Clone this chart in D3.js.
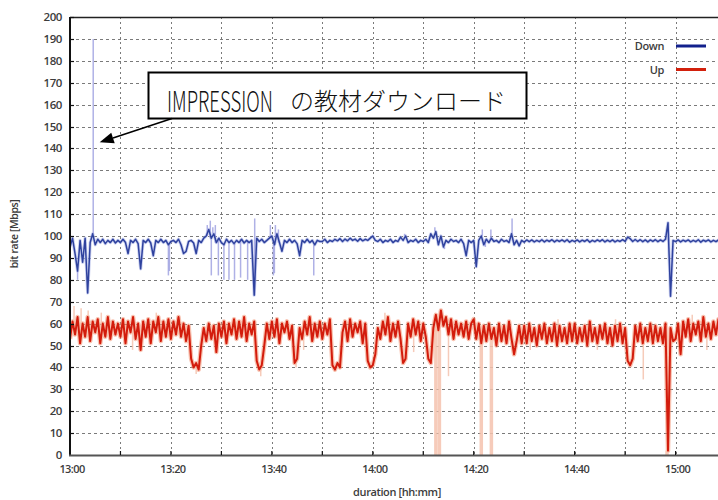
<!DOCTYPE html>
<html><head><meta charset="utf-8">
<script src="https://cdn.jsdelivr.net/npm/d3@7"></script>
<style>body{margin:0;background:#fff}svg{display:block}</style>
</head><body><svg id="c" width="718" height="500"></svg>
<script>
// ---------------- DATA ----------------
const startTime = "13:00";
const endTime = "15:09";
const stepMin = 0.5;               // one sample every 30 s
const seriesNames = ["Down", "Up"];
const yTickValues = [0,10,20,30,40,50,60,70,80,90,100,110,120,130,140,150,160,170,180,190,200];
const xGridTimes = ["13:10","13:20","13:30","13:40","13:50","14:00","14:10","14:20","14:30","14:40","14:50","15:00"];
const xTickLabels = ["13:00","13:20","13:40","14:00","14:20","14:40","15:00"];
const xTitle = "duration [hh:mm]";
const yTitle = "bit rate [Mbps]";
const annotationLatin = "IMPRESSION";
const annotationJa = "の教材ダウンロード";
const annotationTime = "13:04";
const annotationValue = 143;

// Down (Mbps), sampled every 30 s from 13:00
const downVals = [
  95,99,92,84,98,88,99,74,97,101,96,98.5,97,98.5,96.5,98,97,98.5,96.8,98,
  97,98.5,97,92,98,97,98.5,96.5,85,98,97,98.5,96.8,91,98,97,98.5,97,98,96,
  97.5,98,97,98.5,96,92,93,97.5,98,96.8,92,98,97,99,100,103,99,101,97,99,
  97,96,98.5,97,98,96.5,98,97,98.5,96.8,98,97,98,73,99,97.5,98.5,97,98,99,
  100,96,101,97,93,98,97,98.5,97,98,96.5,91,98,97,98.5,97,98,96,98,97.5,
  97.5,98.5,97,98,97.5,98.5,97.8,98.8,97.5,98.6,97.8,99,98,98.6,97.6,98.8,97.8,98.5,98,99,
  100,98,97.5,98.5,97,98,97.5,98.5,97,98,97.5,99.5,98,100,97,98,97.5,98.5,97,98,
  97.5,98.5,97,101,99,102,96,100,95,98,97,98.5,97.5,98,97,98.5,96.5,91,98,97,
  98,86,98,100,96,98.5,97,99,97.5,98,97,98.5,97.5,98,97,101,96,98,95.5,98,
  97.2,98.2,97.4,98.2,97.3,98,97.4,98.3,97.3,98.1,97.5,98.3,97.3,98.1,97.5,98.2,97.4,98.3,97.2,98,
  97.4,98.2,97.3,98.1,97.5,98.3,97.2,98,97.4,98.2,97.5,98.3,97.3,98.1,97.4,98.2,97.3,98,97.5,98.3,
  97.5,99.5,98.8,97.5,98.4,97.5,98.3,97.4,98.2,97.3,98.2,97.5,98.3,97.4,98.2,97.5,98.5,106,72.5,98,
  97.4,98.2,97.3,98.1,97.5,98.2,97.3,98,97.4,98.3,97.2,98.1,97.5,98.2,97.3,98,97.4,98.2,97.5
];
// Up (Mbps), sampled every 30 s from 13:00
const upVals = [
  53,61,55,63,51,60,54,63,52,61,56,62,51,60,54,63,53,61,55,60,
  54,62,51,61,56,63,53,60,48,61,54,62,51,61,56,63,52,61,54,62,
  53,61,55,63,54,60,52,59,44,40,42,39,50,58,52,60,53,59,47,60,
  54,61,51,60,55,62,53,61,54,63,52,60,55,61,43,39,41,50,60,53,
  61,54,62,51,60,56,61,53,59,42,44,58,53,61,55,63,52,60,54,61,
  53,60,55,62,41,39,42,40,56,61,52,62,54,60,56,61,51,60,43,40,
  41,46,58,53,61,55,63,52,60,54,61,53,42,44,60,54,62,55,61,52,
  60,54,44,42,58,64,57,66,59,63,55,62,53,61,55,60,54,61,53,60,
  62,53,60,51,59,52,60,53,58,50,60,52,59,51,61,53,46,52,59,51,
  59,51,60,52,58,50,59,53,60,51,58,52,60,50,59,52,58,51,60,52,
  60,51,58,52,59,50,61,52,58,51,59,53,60,51,58,50,59,52,60,51,
  58,43,41,44,59,52,60,51,58,52,60,51,59,52,58,51,60,2,58,52,
  53,60,46,61,54,62,52,60,55,61,52,63,54,60,53,61,55,62,53
];
// short-lived raw excursions [time, Mbps]
const downSpikes = [
  ["13:04:36",190],["13:01:30",80],["13:19:30",82],["13:19:42",84],
  ["13:27:12",105],["13:27:48",107],["13:28:18",104],["13:28:00",82],["13:29:24",82],["13:28:48",105],
  ["13:30:30",80],["13:31:30",80],["13:32:36",80],["13:33:48",81],["13:35:12",80],["13:36:36",108],
  ["13:39:42",105],["13:40:18",82],["13:40:42",105],["13:41:18",103],["13:40:30",83],["13:48:18",82],
  ["14:06:18",101],["14:12:18",104],["14:14:12",94],["14:21:42",103],["14:22:18",95],["14:23:24",103],["14:27:36",108]
];
const upSpikes = [
  ["13:00:48",68],["13:02:12",67],["13:03:36",66],["13:06:12",65],["13:12:24",48],["13:17:06",65],
  ["13:25:00",37],["13:37:48",36],["13:44:48",40],["13:46:18",48],
  ["13:52:30",38],["14:02:24",65],["14:08:06",47],["14:12:30",0],["14:13:12",0],["14:15:00",36],["14:21:30",0],["14:23:30",0],
  ["14:31:12",48],["14:36:42",62],["14:44:30",48],["14:48:06",62],
  ["14:53:36",34.5],["14:58:18",0],["15:03:18",64],["15:06:12",48]
];

// ---------------- CHART ----------------
const m = {left: 70, top: 17, right: 721, bottom: 455};
const svg = d3.select("#c");
const parseT = s => { const p = s.split(":").map(Number); return new Date(2000,0,1,p[0],p[1],p[2]||0); };
const t0 = parseT(startTime);
const tAt = i => new Date(t0.getTime() + i * stepMin * 60000);

const x = d3.scaleTime().domain([parseT(startTime), parseT(endTime)]).range([m.left, m.right]);
const y = d3.scaleLinear().domain([0, 200]).range([m.bottom, m.top]);

svg.append("clipPath").attr("id","plot").append("rect")
  .attr("x", m.left).attr("y", m.top).attr("width", m.right - m.left).attr("height", m.bottom - m.top);

// grid
const grid = svg.append("g").attr("stroke", "#7a7a7a").attr("stroke-width", 1).attr("fill","none");
grid.selectAll("line.h").data(yTickValues.filter(v => v > 0 && v < 200)).join("line")
  .attr("x1", m.left).attr("x2", m.right)
  .attr("y1", d => Math.round(y(d)) + 0.5).attr("y2", d => Math.round(y(d)) + 0.5)
  .attr("stroke-dasharray", "3,3");
grid.selectAll("line.v").data(xGridTimes).join("line")
  .attr("x1", d => Math.round(x(parseT(d))) + 0.5).attr("x2", d => Math.round(x(parseT(d))) + 0.5)
  .attr("y1", m.top).attr("y2", m.bottom)
  .attr("stroke-dasharray", "2,3");

// data layers
const plot = svg.append("g").attr("clip-path", "url(#plot)");
const nearestVal = (arr, t) => {
  const i = Math.round((t - t0) / 60000 / stepMin);
  return arr[Math.max(0, Math.min(arr.length - 1, i))];
};
const line = d3.line().x((d, i) => x(tAt(i))).y(d => y(d));

function drawSeries(vals, spikes, st) {
  plot.append("path").attr("d", line(vals)).attr("fill", "none")
    .attr("stroke", st.halo).attr("stroke-width", st.haloW).attr("stroke-linejoin", "round").attr("opacity", st.haloOp);
  plot.selectAll(null).data(spikes).join("line")
    .attr("x1", d => x(parseT(d[0]))).attr("x2", d => x(parseT(d[0])))
    .attr("y1", d => y(nearestVal(vals, parseT(d[0])))).attr("y2", d => y(d[1]))
    .attr("stroke", st.spike).attr("stroke-width", d => d[1] < 10 ? 3.5 : 1.5).attr("opacity", 0.85);
  plot.append("path").attr("d", line(vals)).attr("fill", "none")
    .attr("stroke", st.main).attr("stroke-width", st.mainW).attr("stroke-linejoin", "round");
}
drawSeries(upVals, upSpikes, {halo:"#f29070", haloW:4.5, haloOp:0.55, spike:"#f5c3ae", main:"#d31c0c", mainW:2});
drawSeries(downVals, downSpikes, {halo:"#a8b2e6", haloW:3.2, haloOp:0.6, spike:"#a2a4e2", main:"#2f429e", mainW:1.5});

// frame / axes
svg.append("line").attr("x1", m.left).attr("x2", m.right).attr("y1", m.top + 0.5).attr("y2", m.top + 0.5)
  .attr("stroke", "#222").attr("stroke-width", 1.5);
svg.append("line").attr("x1", m.left).attr("x2", m.left).attr("y1", m.top).attr("y2", m.bottom + 1)
  .attr("stroke", "#111").attr("stroke-width", 2);
svg.append("line").attr("x1", m.left - 1).attr("x2", m.right).attr("y1", m.bottom + 0.5).attr("y2", m.bottom + 0.5)
  .attr("stroke", "#555").attr("stroke-width", 2);

// ticks
svg.append("g").selectAll("line").data(yTickValues.filter(v => v > 0)).join("line")
  .attr("x1", m.left).attr("x2", m.left + 4).attr("y1", d => Math.round(y(d)) + 0.5).attr("y2", d => Math.round(y(d)) + 0.5)
  .attr("stroke", "#111").attr("stroke-width", 1.2);
svg.append("g").selectAll("line").data(xGridTimes).join("line")
  .attr("x1", d => x(parseT(d))).attr("x2", d => x(parseT(d))).attr("y1", m.bottom).attr("y2", m.bottom - 4)
  .attr("stroke", "#111").attr("stroke-width", 1.2);

const lab = "'Open Sans', 'DejaVu Sans', sans-serif";
svg.append("g").selectAll("text").data(yTickValues).join("text")
  .attr("x", 62).attr("y", d => y(d) + 4).attr("text-anchor", "end")
  .attr("font-family", lab).attr("font-size", 11.5).attr("font-weight", 600).attr("fill", "#3c3c3c").attr("letter-spacing", "-0.4")
  .text(d => d);
svg.append("g").selectAll("text").data(xTickLabels).join("text")
  .attr("x", d => x(parseT(d)) + 2).attr("y", 473).attr("text-anchor", "middle")
  .attr("font-family", lab).attr("font-size", 11).attr("font-weight", 600).attr("fill", "#3c3c3c").attr("letter-spacing", "-0.6")
  .text(d => d);
svg.append("text").attr("x", 397).attr("y", 496).attr("text-anchor", "middle")
  .attr("font-family", lab).attr("font-size", 11).attr("font-weight", 600).attr("fill", "#3c3c3c").attr("letter-spacing", "-0.4").text(xTitle);
svg.append("text").attr("transform", "translate(18,234) rotate(-90)").attr("text-anchor", "middle")
  .attr("font-family", lab).attr("font-size", 10.5).attr("font-weight", 600).attr("fill", "#3c3c3c").attr("letter-spacing", "-0.4").text(yTitle);

// legend
const legCols = ["#12208c", "#d2200c"];
seriesNames.forEach((n, i) => {
  const ly = 46 + i * 23.5;
  svg.append("text").attr("x", 664).attr("y", ly + 4).attr("text-anchor", "end")
    .attr("font-family", lab).attr("font-size", 11).attr("font-weight", 600).attr("fill", "#3c3c3c").attr("letter-spacing", "-0.4").text(n);
  svg.append("line").attr("x1", 676).attr("x2", 706).attr("y1", ly).attr("y2", ly)
    .attr("stroke", legCols[i]).attr("stroke-width", 3);
});

// annotation
const bx = 148.5, by = 72.5, bw = 378, bh = 46;
svg.append("rect").attr("x", bx).attr("y", by).attr("width", bw).attr("height", bh)
  .attr("fill", "#fff").attr("stroke", "#000").attr("stroke-width", 2);
const latin = svg.append("text").attr("font-family", "'Noto Sans CJK JP', sans-serif")
  .attr("font-size", 29).attr("font-weight", 300).attr("fill", "#111").text(annotationLatin);
const natW = latin.node().getComputedTextLength();
latin.attr("transform", `translate(167,111.5) scale(${106 / natW},1)`);
svg.append("text").attr("x", 290).attr("y", 110).attr("font-family", "'Noto Sans CJK JP', sans-serif")
  .attr("font-size", 24).attr("font-weight", 300).attr("fill", "#111").text(annotationJa);
const tipX = x(parseT(annotationTime)) + 9.5, tipY = y(annotationValue) + 0.5;
const sx = 172, sy = by + bh;
const ang = Math.atan2(tipY - sy, tipX - sx), hl = 14, hw = 5.5;
const bxp = tipX - hl * Math.cos(ang), byp = tipY - hl * Math.sin(ang);
svg.append("line").attr("x1", sx).attr("y1", sy).attr("x2", bxp).attr("y2", byp).attr("stroke", "#000").attr("stroke-width", 1.6);
svg.append("polygon").attr("points", [
  [tipX, tipY],
  [bxp - hw * Math.sin(ang), byp + hw * Math.cos(ang)],
  [bxp + hw * Math.sin(ang), byp - hw * Math.cos(ang)]
].map(p => p.join(",")).join(" ")).attr("fill", "#000");
</script></body></html>
